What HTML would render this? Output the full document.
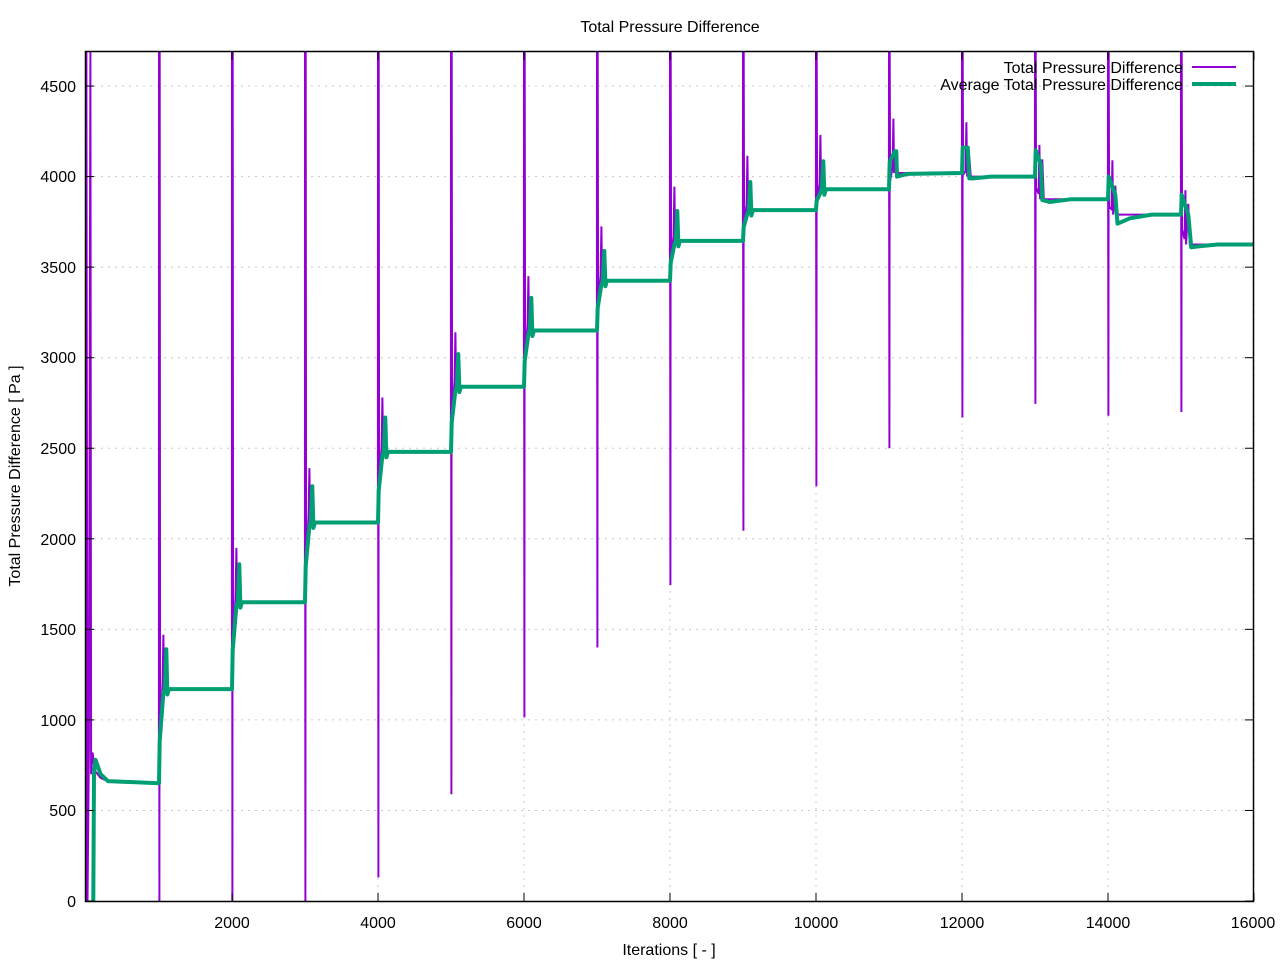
<!DOCTYPE html>
<html><head><meta charset="utf-8"><style>
html,body{margin:0;padding:0;background:#fff}
svg text{font-family:"Liberation Sans",sans-serif;font-size:16px;fill:#000}
</style></head><body>
<svg id="s" width="1280" height="960" xmlns="http://www.w3.org/2000/svg">
<rect width="1280" height="960" fill="#fff"/>
<g id="grid" stroke="#c8c8c8" stroke-width="1" stroke-dasharray="2,5"></g>
<g id="series"></g>
<rect x="85.5" y="51.5" width="1168" height="850" fill="none" stroke="#000" stroke-width="1.5"/>
<g id="ticks" stroke="#000" stroke-width="1"></g>
<text x="670" y="32" text-anchor="middle">Total Pressure Difference</text>
<text x="669" y="955" text-anchor="middle">Iterations [ - ]</text>
<text transform="translate(20,476) rotate(-90)" text-anchor="middle">Total Pressure Difference [ Pa ]</text>
<g text-anchor="end">
<text x="76" y="907">0</text><text x="76" y="816">500</text><text x="76" y="726">1000</text>
<text x="76" y="635">1500</text><text x="76" y="545">2000</text><text x="76" y="454">2500</text>
<text x="76" y="363">3000</text><text x="76" y="273">3500</text><text x="76" y="182">4000</text>
<text x="76" y="92">4500</text>
</g>
<g text-anchor="middle">
<text x="232" y="928">2000</text><text x="378" y="928">4000</text><text x="524" y="928">6000</text>
<text x="670" y="928">8000</text><text x="816" y="928">10000</text><text x="962" y="928">12000</text>
<text x="1108" y="928">14000</text><text x="1253" y="928">16000</text>
</g>
<g text-anchor="end">
<text x="1183" y="73">Total Pressure Difference</text>
<text x="1183" y="90">Average Total Pressure Difference</text>
</g>
<line x1="1192" y1="67" x2="1236" y2="67" stroke="#9400d3" stroke-width="2"/>
<line x1="1192" y1="84" x2="1236" y2="84" stroke="#009e73" stroke-width="4"/>
</svg>
<script>
var NS="http://www.w3.org/2000/svg";
function X(v){return 86+v*0.073;}
function Y(v){return 901-v*0.1811;}
function el(p,t,a){var e=document.createElementNS(NS,t);for(var k in a)e.setAttribute(k,a[k]);document.getElementById(p).appendChild(e);}
for(var i=1;i<=8;i++){var x=X(i*2000);el("grid","line",{x1:x,y1:52,x2:x,y2:900});el("ticks","line",{x1:x,y1:901,x2:x,y2:893});el("ticks","line",{x1:x,y1:52,x2:x,y2:60});}
for(var i=0;i<=9;i++){var y=Y(i*500);if(i>0)el("grid","line",{x1:87,y1:y,x2:1252,y2:y});el("ticks","line",{x1:86,y1:y,x2:94,y2:y});el("ticks","line",{x1:1253,y1:y,x2:1245,y2:y});}
var L=[650,1170,1650,2090,2480,2840,3150,3425,3645,3815,3930,4020,4000,3875,3790,3625];
var S=[0,1390,1860,2290,2670,3020,3330,3590,3810,3970,4085,4140,4160,4145,4000,3900];
var MN=[0,0,0,0,130,590,1015,1400,1745,2045,2290,2500,2670,2745,2680,2700];
// green
var g=[[100,0],[110,700],[130,780],[200,700],[300,662],[1000,650]];
for(var k=1;k<=15;k++){var b=k*1000,lp=L[k-1],l=L[k],s=S[k];
 if(k<11){g.push([b,lp],[b+10,lp+0.45*(l-lp)],[b+60,l-20],[b+80,l],[b+100,s],[b+115,l-30],[b+135,l],[b+1000,l]);}
 else if(k==11){g.push([b,lp],[b+10,4080],[b+80,4140],[b+100,4140],[b+110,4000],[b+250,4015],[b+1000,l]);}
 else if(k==12){g.push([b,lp],[b+10,4160],[b+80,4160],[b+100,3990],[b+150,3990],[b+400,4000],[b+1000,l]);}
 else if(k==13){g.push([b,lp],[b+10,4145],[b+80,4070],[b+100,3870],[b+200,3860],[b+500,3875],[b+1000,l]);}
 else if(k==14){g.push([b,lp],[b+10,4000],[b+100,3900],[b+130,3740],[b+300,3770],[b+600,3790],[b+1000,l]);}
 else {g.push([b,lp],[b+10,3900],[b+100,3790],[b+140,3610],[b+250,3615],[b+500,3625],[b+1000,l]);}
}
// purple
var p=[[0,0],[5,4700],[20,0],[40,830],[60,4700],[70,700],[90,820],[120,720],[200,680],[300,662],[1000,650]];
for(var k=1;k<=15;k++){var b=k*1000,lp=L[k-1],l=L[k],s=S[k];
 p.push([b-2,lp],[b,4700],[b+5,MN[k]],[b+10,4700],[b+15,lp+0.5*(l-lp)]);
 p.push([b+50,l+30],[b+60,l+300<4700?l+300:4600],[b+70,l],[b+100,s-50],[b+120,l],[b+1000,l]);
}
function path(a){return "M"+a.map(function(q){return X(q[0]).toFixed(1)+","+Math.max(40,Y(q[1])).toFixed(1)}).join("L");}
document.getElementById("series").innerHTML='<clipPath id="c"><rect x="86" y="52" width="1167" height="849"/></clipPath>'+
'<g clip-path="url(#c)"><path d="'+path(p)+'" fill="none" stroke="#9400d3" stroke-width="2"/>'+
'<path d="'+path(g)+'" fill="none" stroke="#009e73" stroke-width="4" stroke-linejoin="round"/></g>';
</script>
</body></html>
